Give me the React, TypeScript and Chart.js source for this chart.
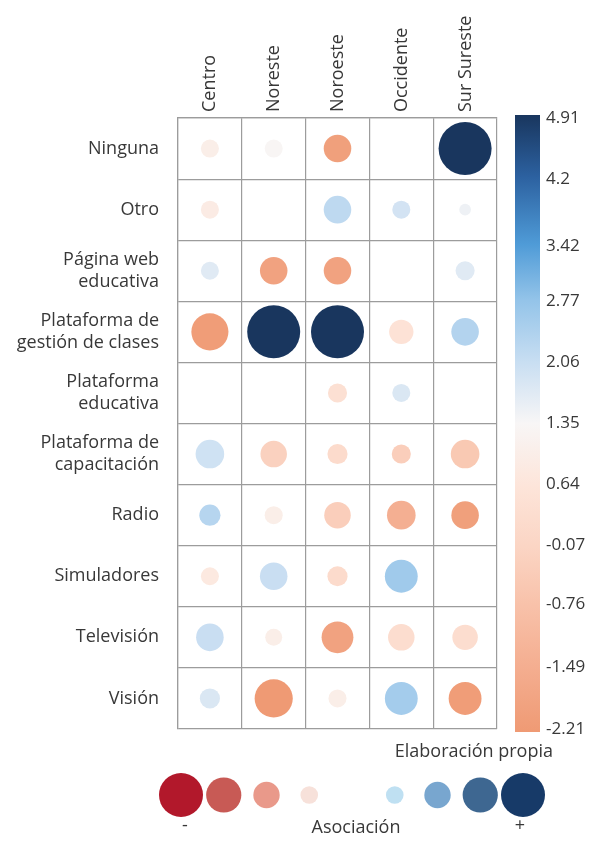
import React, { useEffect, useRef } from "react";
import { Chart, registerables } from "chart.js";

Chart.register(...registerables);

const regions = ["Centro", "Noreste", "Noroeste", "Occidente", "Sur Sureste"];
const platforms: string[][] = [
  ["Ninguna"],
  ["Otro"],
  ["Página web", "educativa"],
  ["Plataforma de", "gestión de clases"],
  ["Plataforma", "educativa"],
  ["Plataforma de", "capacitación"],
  ["Radio"],
  ["Simuladores"],
  ["Televisión"],
  ["Visión"],
];

// association value per cell (colour), null = no circle
const values: (number | null)[][] = [
  [1.0, 1.3, -2.0, null, 4.91],
  [0.9, null, 2.2, 1.9, 1.5],
  [1.7, -1.9, -1.9, null, 1.7],
  [-2.1, 4.91, 4.91, 0.5, 2.35],
  [null, null, 0.4, 1.8, null],
  [1.95, -0.2, 0.2, -0.3, -0.5],
  [2.3, 1.0, -0.3, -1.4, -2.0],
  [0.8, 2.05, 0.2, 2.6, null],
  [2.05, 1.0, -1.9, 0.3, 0.3],
  [1.8, -2.21, 1.0, 2.55, -2.1],
];

// circle magnitude per cell (size)
const weights: number[][] = [
  [1.7, 1.7, 2.6, 0, 5.0],
  [1.7, 0, 2.6, 1.7, 1.1],
  [1.7, 2.6, 2.6, 0, 1.8],
  [3.5, 5.0, 5.0, 2.3, 2.6],
  [0, 0, 1.8, 1.7, 0],
  [2.7, 2.5, 1.9, 1.8, 2.7],
  [2.0, 1.7, 2.5, 2.7, 2.6],
  [1.7, 2.6, 1.9, 3.1, 0],
  [2.6, 1.6, 3.0, 2.5, 2.4],
  [1.9, 3.6, 1.7, 3.1, 3.1],
];
const maxWeight = 5;

const colorbarTicks = [4.91, 4.2, 3.42, 2.77, 2.06, 1.35, 0.64, -0.07, -0.76, -1.49, -2.21];
const colorbarMin = -2.21;
const colorbarMax = 4.91;

const colorStops: [number, string][] = [
  [-2.21, "#ef9a74"],
  [-1.49, "#f4ad8f"],
  [-0.76, "#f8c1a9"],
  [-0.07, "#fbd5c4"],
  [0.64, "#fde5da"],
  [1.35, "#f8f6f6"],
  [2.06, "#c8def2"],
  [2.77, "#94c4e9"],
  [3.42, "#4f9bd7"],
  [4.2, "#2c61a0"],
  [4.91, "#19365e"],
];

const legendLevels = [-4, -3, -2, -1, 1, 2, 3, 4];
const legendColors = ["#b2182b", "#c85a55", "#e9998a", "#f7e1da", "#bfe0f2", "#78a6cf", "#3e6791", "#173a68"];

const FONT = "'Open Sans', 'DejaVu Sans', sans-serif";
const TEXT = "#383838";
const GRID = "#9c9c9c";
const CLEAR = "rgba(0,0,0,0)";

function hexToRgb(h: string): number[] {
  const n = parseInt(h.slice(1), 16);
  return [(n >> 16) & 255, (n >> 8) & 255, n & 255];
}

function colorFor(v: number): string {
  if (v <= colorStops[0][0]) return colorStops[0][1];
  for (let i = 1; i < colorStops.length; i++) {
    const [v1, c1] = colorStops[i];
    const [v0, c0] = colorStops[i - 1];
    if (v <= v1) {
      const t = (v - v0) / (v1 - v0);
      const a = hexToRgb(c0);
      const b = hexToRgb(c1);
      const m = a.map((x, k) => Math.round(x + (b[k] - x) * t));
      return `rgb(${m[0]},${m[1]},${m[2]})`;
    }
  }
  return colorStops[colorStops.length - 1][1];
}

const gridColor = (ctx: any) =>
  ctx.tick && Number.isInteger(ctx.tick.value) ? GRID : CLEAR;

const colorbarPlugin = {
  id: "colorbar",
  afterDraw(chart: any) {
    const s = chart.scales.cb;
    if (!s) return;
    const ctx = chart.ctx;
    const top = s.getPixelForValue(colorbarMax) - 3;
    const bottom = s.getPixelForValue(colorbarMin) + 3;
    const g = ctx.createLinearGradient(0, bottom, 0, top);
    colorStops.forEach(([v, c]) => {
      g.addColorStop((v - colorbarMin) / (colorbarMax - colorbarMin), c);
    });
    ctx.save();
    ctx.fillStyle = g;
    ctx.fillRect(chart.chartArea.right + 18, top, 25, bottom - top);
    ctx.restore();
  },
};

export default function App() {
  const mainRef = useRef<HTMLCanvasElement>(null);
  const legendRef = useRef<HTMLCanvasElement>(null);

  useEffect(() => {
    Chart.defaults.font.family = FONT;
    const points: any[] = [];
    const colors: string[] = [];
    values.forEach((row, r) =>
      row.forEach((v, c) => {
        if (v === null || weights[r][c] <= 0) return;
        points.push({ x: c + 0.5, y: r + 0.5, r: (weights[r][c] / maxWeight) * 26.5 });
        colors.push(colorFor(v));
      })
    );
    const xTicks: number[] = [];
    for (let i = 0; i <= regions.length * 2; i++) xTicks.push(i / 2);
    const yTicks: number[] = [];
    for (let i = 0; i <= platforms.length * 2; i++) yTicks.push(i / 2);

    const main = new Chart(mainRef.current!, {
      type: "bubble",
      data: {
        datasets: [
          {
            data: points,
            backgroundColor: colors,
            borderWidth: 0,
            hoverBorderWidth: 0,
          },
        ],
      },
      options: {
        responsive: false,
        animation: false,
        layout: { autoPadding: false, padding: { left: 0, right: 0, top: 0, bottom: 16 } },
        plugins: { legend: { display: false }, tooltip: { enabled: false } },
        scales: {
          x: {
            type: "linear",
            position: "top",
            min: 0,
            max: regions.length,
            afterBuildTicks: (s: any) => {
              s.ticks = xTicks.map((v) => ({ value: v }));
            },
            afterFit: (s: any) => {
              s.height = 118;
            },
            grid: { color: gridColor, lineWidth: 1.2, drawTicks: true, tickLength: 6, tickColor: CLEAR },
            border: { color: GRID, width: 1.2 },
            ticks: {
              autoSkip: false,
              minRotation: 90,
              maxRotation: 90,
              padding: 0,
              labelOffset: 22,
              color: TEXT,
              font: { size: 18, family: FONT },
              callback: (v: any) => (Number.isInteger(v) ? "" : regions[Math.floor(v)]),
            },
          },
          y: {
            type: "linear",
            position: "left",
            reverse: true,
            min: 0,
            max: platforms.length,
            afterBuildTicks: (s: any) => {
              s.ticks = yTicks.map((v) => ({ value: v }));
            },
            afterFit: (s: any) => {
              s.width = 178;
            },
            grid: { color: gridColor, lineWidth: 1.2, drawTicks: true, tickLength: 19, tickColor: CLEAR },
            border: { color: GRID, width: 1.2 },
            ticks: {
              autoSkip: false,
              padding: 0,
              color: TEXT,
              font: { size: 18, family: FONT, lineHeight: 1.2 },
              callback: (v: any) => (Number.isInteger(v) ? "" : platforms[Math.floor(v)]),
            },
          },
          cb: {
            type: "linear",
            position: "right",
            min: colorbarMin,
            max: colorbarMax,
            afterBuildTicks: (s: any) => {
              s.ticks = colorbarTicks.map((v) => ({ value: v }));
            },
            afterFit: (s: any) => {
              s.width = 98;
            },
            grid: { display: true, drawOnChartArea: false, drawTicks: true, tickLength: 49, color: CLEAR, tickColor: CLEAR },
            border: { display: false },
            ticks: {
              padding: 0,
              color: TEXT,
              font: { size: 17, family: FONT },
              callback: (v: any) => String(v),
            },
          },
        },
      } as any,
      plugins: [colorbarPlugin],
    });

    const legend = new Chart(legendRef.current!, {
      type: "bubble",
      data: {
        datasets: [
          {
            data: legendLevels.map((l) => ({ x: l, y: 0, r: 4.4 * Math.abs(l) + 4.4 })),
            backgroundColor: legendColors,
            borderWidth: 0,
            clip: false,
          } as any,
        ],
      },
      options: {
        responsive: false,
        animation: false,
        layout: { autoPadding: false, padding: { left: 181, right: 72, top: 30, bottom: 26 } },
        plugins: { legend: { display: false }, tooltip: { enabled: false } },
        scales: {
          x: { type: "linear", min: -4, max: 4, display: false },
          y: { type: "linear", min: -1, max: 1, display: false },
        },
      } as any,
    });

    return () => {
      main.destroy();
      legend.destroy();
    };
  }, []);

  const textStyle: React.CSSProperties = {
    position: "absolute",
    fontFamily: FONT,
    color: TEXT,
    whiteSpace: "nowrap",
    lineHeight: 1,
  };

  return (
    <div style={{ position: "absolute", left: 0, top: 0, width: 595, height: 841, background: "#fff" }}>
      <canvas ref={mainRef} width={595} height={745} style={{ position: "absolute", left: 0, top: 0 }} />
      <canvas ref={legendRef} width={595} height={96} style={{ position: "absolute", left: 0, top: 745 }} />
      <div style={{ ...textStyle, right: 42, top: 741, fontSize: 18 }}>Elaboración propia</div>
      <div style={{ ...textStyle, left: 185, top: 815, fontSize: 18, transform: "translateX(-50%)" }}>-</div>
      <div style={{ ...textStyle, left: 356, top: 817, fontSize: 18, transform: "translateX(-50%)" }}>Asociación</div>
      <div style={{ ...textStyle, left: 520, top: 815, fontSize: 18, transform: "translateX(-50%)" }}>+</div>
    </div>
  );
}
